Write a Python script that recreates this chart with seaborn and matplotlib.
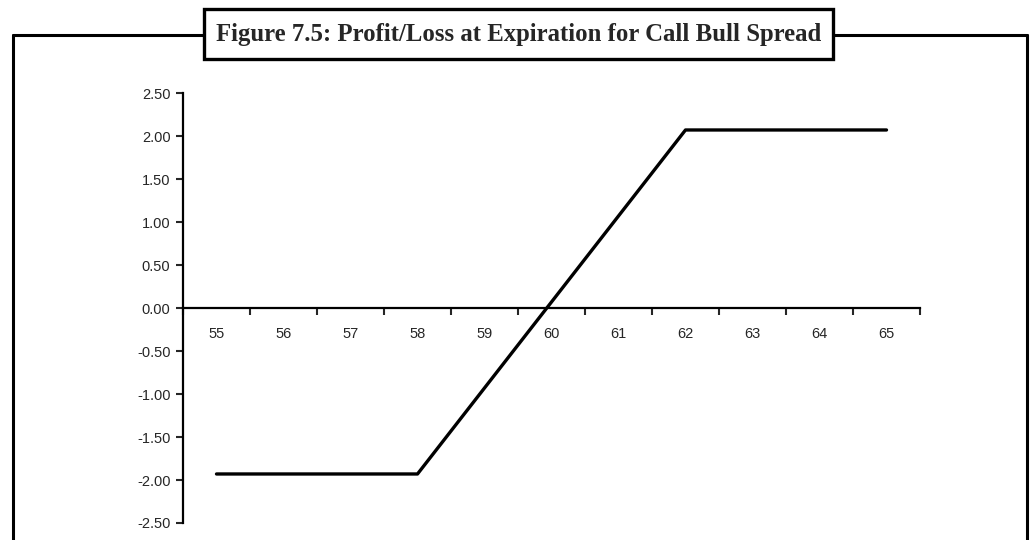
import numpy as np
import pandas as pd
import matplotlib
matplotlib.use("Agg")
import matplotlib.pyplot as plt
import seaborn as sns
from matplotlib.lines import Line2D
from matplotlib.patches import Rectangle

# ----------------- Data -----------------
stock_price = [55, 56, 57, 58, 59, 60, 61, 62, 63, 64, 65]
profit_loss = [-1.93, -1.93, -1.93, -1.93, -0.93, 0.07, 1.07, 2.07, 2.07, 2.07, 2.07]
y_ticks = [2.5, 2.0, 1.5, 1.0, 0.5, 0.0, -0.5, -1.0, -1.5, -2.0, -2.5]
title = "Figure 7.5: Profit/Loss at Expiration for Call Bull Spread"

df = pd.DataFrame({"price": stock_price, "pl": profit_loss})

# ----------------- Plot -----------------
sns.set_style("white")
plt.rcParams["font.family"] = ["Liberation Sans", "DejaVu Sans"]

fig = plt.figure(figsize=(10.3, 5.4), dpi=100)
ax = fig.add_axes([183 / 1030, 1 - 523 / 540, (920 - 183) / 1030, (523 - 93) / 540])

sns.lineplot(data=df, x="price", y="pl", ax=ax, color="black", linewidth=2.4)

ax.set_xlim(54.5, 65.5)
ax.set_ylim(-2.5, 2.5)
ax.set_xlabel("")
ax.set_ylabel("")

# y axis
ax.set_yticks(y_ticks)
ax.set_yticklabels([f"{v:.2f}" for v in y_ticks], fontsize=10.5)
ax.tick_params(axis="y", direction="out", length=5, width=1.5, pad=4, left=True)

# x axis crosses at zero, labels between tick marks
ax.spines["bottom"].set_position(("data", 0))
ax.spines["top"].set_visible(False)
ax.spines["right"].set_visible(False)
for s in ["left", "bottom"]:
    ax.spines[s].set_linewidth(1.6)
    ax.spines[s].set_color("black")
ax.set_xticks(stock_price)
ax.set_xticklabels([str(p) for p in stock_price], fontsize=10.5)
ax.tick_params(axis="x", which="major", length=0, pad=14)
ax.set_xticks(np.arange(54.5, 66, 1), minor=True)
ax.tick_params(axis="x", which="minor", direction="out", length=5, width=1.5, bottom=True)

# outer frame and title box
frame_kw = dict(color="black", linewidth=2.2, transform=fig.transFigure)
fig.add_artist(Line2D([13 / 1030, 13 / 1030], [0, 1 - 35 / 540], **frame_kw))
fig.add_artist(Line2D([13 / 1030, 1027 / 1030], [1 - 35 / 540, 1 - 35 / 540], **frame_kw))
fig.add_artist(Line2D([1027 / 1030, 1027 / 1030], [0, 1 - 35 / 540], **frame_kw))
fig.add_artist(Rectangle((204 / 1030, 1 - 59 / 540), (833 - 204) / 1030, 50 / 540,
                         transform=fig.transFigure, facecolor="white",
                         edgecolor="black", linewidth=2.4, zorder=5))
fig.text(518.5 / 1030, 1 - 34 / 540, title, ha="center", va="center",
         fontsize=17.8, fontweight="bold", family=["Liberation Serif", "DejaVu Serif"],
         zorder=6)

fig.savefig("out.png", dpi=100)
